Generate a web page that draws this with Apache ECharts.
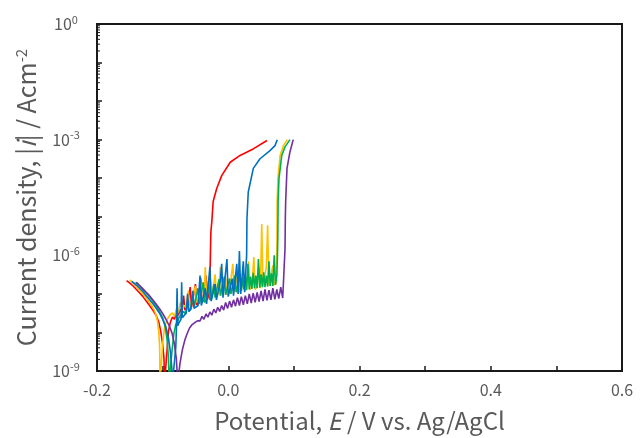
<!DOCTYPE html>
<html><head><meta charset="utf-8">
<script src="https://cdn.jsdelivr.net/npm/echarts@6/dist/echarts.min.js"></script>
<style>html,body{margin:0;padding:0;background:#fff}#c{width:644px;height:438px}</style>
</head><body><div id="c"></div>
<script>
// Potential E (V vs Ag/AgCl), current density |i| (A/cm2)
const seriesNames = ['Red', 'Yellow', 'Green', 'Blue', 'Purple'];
const seriesColors = ['#FF0000', '#FFC000', '#00B050', '#0070C0', '#7030A0'];

const redData = [
  [-0.155,2.2e-7],[-0.150,1.9e-7],[-0.145,1.6e-7],[-0.140,1.3e-7],[-0.135,1.05e-7],[-0.130,8.5e-8],[-0.125,6.5e-8],[-0.120,5e-8],[-0.115,3.8e-8],[-0.110,2.8e-8],[-0.106,1.9e-8],[-0.103,1.1e-8],[-0.100,5e-9],[-0.098,2.2e-9],[-0.097,5e-10],
  [-0.095,5e-10],[-0.093,4e-9],[-0.091,1.1e-8],[-0.088,1.9e-8],[-0.085,2.5e-8],[-0.082,2.2e-8],[-0.079,3.2e-8],[-0.076,2.8e-8],[-0.073,4e-8],[-0.071,3.3e-8],[-0.068,9e-8],[-0.066,3.8e-8],[-0.063,4.5e-8],[-0.060,4e-8],[-0.058,1.5e-7],[-0.056,4.5e-8],[-0.053,5e-8],[-0.050,1.8e-7],[-0.048,5.2e-8],[-0.045,6e-8],[-0.042,2.6e-7],[-0.040,6e-8],[-0.037,7e-8],[-0.034,3e-7],[-0.032,7e-8],[-0.030,9e-8],[-0.028,2.2e-7],
  [-0.027,1.5e-6],[-0.0265,4e-6],[-0.025,7.6e-6],[-0.023,2.5e-5],[-0.0176,5.4e-5],[-0.010,1.17e-4],[0.003,2.6e-4],[0.018,3.9e-4],[0.038,5.75e-4],[0.059,9.5e-4]
];
const yellowData = [
  [-0.150,2.3e-7],[-0.145,1.9e-7],[-0.140,1.55e-7],[-0.135,1.25e-7],[-0.130,1.0e-7],[-0.125,8e-8],[-0.120,6e-8],[-0.115,4.5e-8],[-0.111,3.2e-8],[-0.108,2e-8],[-0.106,1.1e-8],[-0.1045,4e-9],[-0.104,5e-10],
  [-0.102,5e-10],[-0.100,5e-9],[-0.097,1.4e-8],[-0.093,2.2e-8],[-0.089,2.8e-8],[-0.085,3.2e-8],[-0.082,2.6e-8],[-0.079,4e-8],[-0.076,3.3e-8],[-0.073,6e-8],[-0.070,4e-8],[-0.067,5e-8],[-0.064,4.4e-8],[-0.061,1.2e-7],[-0.059,5e-8],[-0.056,6e-8],[-0.053,5.5e-8],[-0.050,1.6e-7],[-0.048,6e-8],[-0.045,7e-8],[-0.042,6.3e-8],[-0.039,2e-7],[-0.037,7e-8],[-0.035,5e-7],[-0.033,8e-8],[-0.030,7.5e-8],[-0.027,2.5e-7],[-0.025,8e-8],[-0.022,9e-8],[-0.020,3.2e-7],[-0.018,8.5e-8],[-0.015,1.0e-7],[-0.012,5e-7],[-0.010,9e-8],[-0.007,1.0e-7],[-0.004,2.6e-7],[-0.002,9.5e-8],[0.001,1.1e-7],[0.004,2.4e-7],[0.007,6e-7],[0.009,1.1e-7],[0.012,1.2e-7],[0.015,4e-7],[0.017,1.1e-7],[0.020,1.3e-7],[0.023,3e-7],[0.025,1.2e-7],[0.028,1.4e-7],[0.031,7e-7],[0.033,1.3e-7],[0.036,1.5e-7],[0.039,9e-7],[0.041,1.3e-7],[0.044,1.6e-7],[0.047,5e-7],[0.049,1.4e-7],[0.051,6.5e-6],[0.053,1.6e-7],[0.056,1.7e-7],[0.058,5e-7],[0.060,6e-6],[0.062,1.6e-7],[0.065,1.8e-7],[0.068,5.5e-7],[0.070,1.7e-7],[0.073,2e-7],
  [0.074,1e-6],[0.0745,2.5e-5],[0.0757,1e-4],[0.079,3.9e-4],[0.084,7e-4],[0.090,1e-3]
];
const greenData = [
  [-0.141,2.0e-7],[-0.135,1.6e-7],[-0.130,1.3e-7],[-0.125,1.05e-7],[-0.120,8.5e-8],[-0.115,6.5e-8],[-0.110,5e-8],[-0.105,3.6e-8],[-0.100,2.4e-8],[-0.096,1.4e-8],[-0.093,6e-9],[-0.091,2e-9],[-0.090,5e-10],
  [-0.088,5e-10],[-0.086,3e-9],[-0.083,9e-9],[-0.080,1.6e-8],[-0.077,2e-8],[-0.074,2.6e-8],[-0.071,2.4e-8],[-0.068,3.5e-8],[-0.065,3e-8],[-0.062,6e-8],[-0.060,3.5e-8],[-0.057,4.2e-8],[-0.054,1e-7],[-0.052,4.5e-8],[-0.049,5e-8],[-0.046,1.4e-7],[-0.044,5.5e-8],[-0.041,6e-8],[-0.038,2e-7],[-0.036,6e-8],[-0.033,7e-8],[-0.030,2.2e-7],[-0.028,7e-8],[-0.025,8e-8],[-0.022,1.8e-7],[-0.020,8e-8],[-0.017,9e-8],[-0.014,2.4e-7],[-0.012,9e-8],[-0.009,1e-7],[-0.006,2.8e-7],[-0.004,9.5e-8],[-0.001,1.05e-7],[0.002,2.5e-7],[0.004,1e-7],[0.007,1.1e-7],[0.010,3e-7],[0.012,1.1e-7],[0.015,1.2e-7],[0.018,3.3e-7],[0.020,1.2e-7],[0.022,2.6e-7],[0.024,1.3e-7],[0.026,3e-7],[0.028,1.25e-7],[0.030,6e-7],[0.032,1.3e-7],[0.034,2.8e-7],[0.036,1.35e-7],[0.038,3.5e-7],[0.040,1.4e-7],[0.042,3e-7],[0.044,1.4e-7],[0.046,8e-7],[0.048,1.45e-7],[0.050,3.2e-7],[0.052,1.5e-7],[0.054,3.6e-7],[0.056,1.5e-7],[0.058,3e-7],[0.060,1.55e-7],[0.062,7e-7],[0.064,1.6e-7],[0.066,3.4e-7],[0.068,1.6e-7],[0.070,1e-6],[0.072,1.7e-7],[0.074,3e-7],
  [0.075,1e-6],[0.0755,3e-6],[0.076,2.5e-5],[0.0773,9.8e-5],[0.0815,3.9e-4],[0.0865,6.5e-4],[0.094,1e-3]
];
const blueData = [
  [-0.147,2.1e-7],[-0.140,1.7e-7],[-0.135,1.4e-7],[-0.130,1.15e-7],[-0.125,9e-8],[-0.120,7.2e-8],[-0.115,5.6e-8],[-0.110,4.3e-8],[-0.105,3.2e-8],[-0.100,2.2e-8],[-0.095,1.4e-8],[-0.091,7e-9],[-0.088,3e-9],[-0.086,1.2e-9],[-0.085,5e-10],
  [-0.082,5e-10],[-0.080,4e-9],[-0.079,1.2e-8],[-0.078,1.4e-7],[-0.077,1.5e-8],[-0.075,1.8e-8],[-0.072,2.2e-8],[-0.071,2e-7],[-0.070,2.4e-8],[-0.067,2.8e-8],[-0.064,3.2e-8],[-0.062,1e-7],[-0.060,3.5e-8],[-0.057,4e-8],[-0.054,1.2e-7],[-0.052,4.2e-8],[-0.049,4.5e-8],[-0.046,5e-8],[-0.043,3e-7],[-0.041,5e-8],[-0.038,5.5e-8],[-0.035,1.4e-7],[-0.033,5.5e-8],[-0.030,6e-8],[-0.028,5e-7],[-0.026,6.5e-8],[-0.023,7e-8],[-0.020,1.8e-7],[-0.018,7e-8],[-0.015,7.5e-8],[-0.012,2.2e-7],[-0.010,6e-7],[-0.008,8e-8],[-0.005,8.5e-8],[-0.002,8e-7],[0.000,8.5e-8],[0.003,9e-8],[0.006,2.5e-7],[0.008,9e-8],[0.011,9.5e-8],[0.013,6e-7],[0.015,1e-7],[0.017,1.3e-6],[0.019,1e-7],[0.021,1.05e-7],[0.023,7e-7],[0.025,1.1e-7],[0.027,1.2e-7],
  [0.028,1e-6],[0.0285,9e-6],[0.0305,4.4e-5],[0.0382,1.8e-4],[0.0484,3.2e-4],[0.0636,5.2e-4],[0.0712,7e-4],[0.0747,1e-3]
];
const purpleData = [
  [-0.140,2.0e-7],[-0.135,1.65e-7],[-0.130,1.35e-7],[-0.125,1.1e-7],[-0.120,9e-8],[-0.115,7e-8],[-0.110,5.5e-8],[-0.105,4.2e-8],[-0.100,3.1e-8],[-0.095,2.2e-8],[-0.090,1.5e-8],[-0.086,1e-8],[-0.082,5e-9],[-0.079,2e-9],[-0.077,5e-10],
  [-0.075,5e-10],[-0.0735,1.6e-9],[-0.070,3.5e-9],[-0.066,6.5e-9],[-0.063,9e-9],[-0.059,1.3e-8],[-0.055,1.6e-8],[-0.051,1.8e-8],[-0.047,2e-8],[-0.043,2e-8],[-0.040,2.6e-8],[-0.037,2.2e-8],[-0.034,3e-8],[-0.031,2.5e-8],[-0.028,3.4e-8],[-0.025,2.8e-8],[-0.022,4e-8],[-0.019,3.2e-8],[-0.016,4.5e-8],[-0.013,3.5e-8],[-0.010,5e-8],[-0.007,3.8e-8],[-0.004,6e-8],[-0.001,4.2e-8],[0.002,6.5e-8],[0.005,4.5e-8],[0.008,7e-8],[0.011,4.8e-8],[0.014,8e-8],[0.017,5e-8],[0.020,8.5e-8],[0.023,5.2e-8],[0.026,9e-8],[0.029,5.5e-8],[0.032,1e-7],[0.035,5.8e-8],[0.038,1.05e-7],[0.041,6e-8],[0.044,1.1e-7],[0.047,6.3e-8],[0.050,1.2e-7],[0.053,6.5e-8],[0.056,1.3e-7],[0.059,6.8e-8],[0.062,1.25e-7],[0.065,7e-8],[0.068,1.4e-7],[0.071,7.2e-8],[0.074,1.3e-7],[0.077,7.5e-8],[0.080,1.5e-7],[0.083,7.8e-8],[0.085,8e-8],
  [0.0865,1.5e-6],[0.087,1e-5],[0.0875,2.5e-5],[0.0895,1.8e-4],[0.094,4.8e-4],[0.099,1e-3]
];
const allData = [redData, yellowData, greenData, blueData, purpleData];

const xMin = -0.2, xMax = 0.6, xStep = 0.2;
const yMin = 1e-9, yMax = 1;

const FONT = '"Noto Sans CJK JP", "Noto Sans", sans-serif';
const AX = '#1a1a1a';
const LBL = '#595959';

// minor log tick positions (axis decoration only)
const minorTicks = [];
for (let n = -9; n < 0; n++) for (let k = 2; k <= 9; k++) minorTicks.push([xMin, k * Math.pow(10, n)]);

const chart = echarts.init(document.getElementById('c'), null, {renderer: 'canvas'});
const series = allData.map((d, i) => ({
  name: seriesNames[i], type: 'line', data: d, showSymbol: false, symbol: 'none',
  lineStyle: {color: seriesColors[i], width: 1.6}, itemStyle: {color: seriesColors[i]},
  clip: true, z: 2 + i
}));
series.push({
  type: 'custom', data: minorTicks, clip: false, z: 20, silent: true,
  renderItem: (params, api) => {
    const p = api.coord([api.value(0), api.value(1)]);
    return {type: 'line', shape: {x1: p[0], y1: p[1], x2: p[0] + 3, y2: p[1]}, style: {stroke: AX, lineWidth: 1}};
  }
});

chart.setOption({
  animation: false,
  backgroundColor: '#fff',
  grid: {left: 97, right: 22, top: 24, bottom: 64, show: true, borderColor: AX, borderWidth: 2, backgroundColor: 'transparent'},
  xAxis: {
    type: 'value', min: xMin, max: xMax, interval: xStep,
    axisLine: {show: true, onZero: false, lineStyle: {color: AX, width: 2}},
    axisTick: {show: true, inside: true, length: 5, lineStyle: {color: AX, width: 1.5}},
    minorTick: {show: true, splitNumber: 2, length: 5, lineStyle: {color: AX, width: 1.5}},
    splitLine: {show: false}, minorSplitLine: {show: false},
    axisLabel: {formatter: v => v.toFixed(1), color: LBL, fontSize: 16, fontFamily: FONT, margin: 11},
    name: 'Potential, {it|E} / V vs. Ag/AgCl', nameLocation: 'middle', nameGap: 38,
    nameTextStyle: {color: LBL, fontSize: 24, fontFamily: FONT,
      rich: {it: {fontStyle: 'italic', color: LBL, fontSize: 24, fontFamily: FONT}}}
  },
  yAxis: {
    type: 'log', logBase: 10, min: yMin, max: yMax, interval: 1,
    axisLine: {show: true, onZero: false, lineStyle: {color: AX, width: 2}},
    axisTick: {show: true, inside: true, length: 5, lineStyle: {color: AX, width: 1.5}},
    splitLine: {show: false},
    axisLabel: {
      formatter: v => {
        const e = Math.round(Math.log10(v));
        if (e % 3 !== 0) return '';
        return '{b|10}{s|' + e + '}';
      },
      align: 'center', margin: 31, color: LBL, fontFamily: FONT,
      rich: {
        b: {fontSize: 16, color: LBL, fontFamily: FONT, lineHeight: 20},
        s: {fontSize: 11, color: LBL, fontFamily: FONT, verticalAlign: 'top', lineHeight: 14}
      }
    },
    name: 'Current density, |{it|i}| / Acm{s|-2}', nameLocation: 'middle', nameGap: 58, nameRotate: 90,
    nameTextStyle: {color: LBL, fontSize: 25, fontFamily: FONT,
      rich: {
        it: {fontStyle: 'italic', color: LBL, fontSize: 25, fontFamily: FONT},
        s: {fontSize: 15, color: LBL, fontFamily: FONT, verticalAlign: 'top', lineHeight: 18}
      }}
  },
  series: series
});
</script>
</body></html>
